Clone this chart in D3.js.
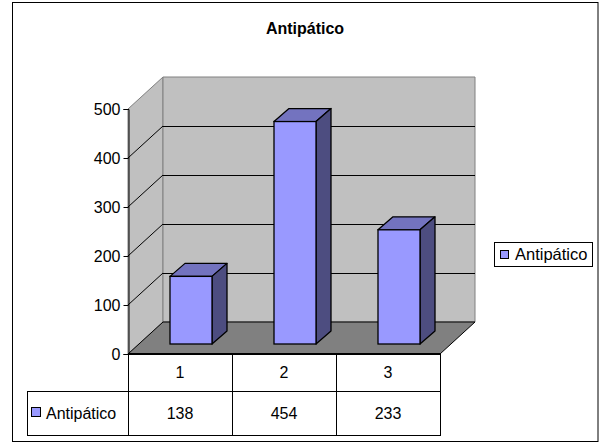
<!DOCTYPE html>
<html>
<head>
<meta charset="utf-8">
<script src="https://cdn.jsdelivr.net/npm/d3@7"></script>
<style>
  body { margin: 0; background: #fff; }
  text { font-family: "Liberation Sans", Arial, sans-serif; }
</style>
</head>
<body>
<div id="chart"></div>
<script>
// data
var categories = ["1", "2", "3"];
var values = [138, 454, 233];
var seriesName = "Antipático";
var yTicks = [0, 100, 200, 300, 400, 500];

var W = 600, H = 444;
var svg = d3.select("#chart").append("svg")
  .attr("width", W).attr("height", H);

// outer frame
svg.append("rect")
  .attr("x", 12.5).attr("y", 2.5)
  .attr("width", 585.5).attr("height", 439)
  .attr("fill", "#fff").attr("stroke", "#000").attr("stroke-width", 1);

// title
svg.append("text")
  .attr("x", 305).attr("y", 34)
  .attr("text-anchor", "middle")
  .attr("font-size", "16px").attr("font-weight", "bold")
  .text(seriesName);

var x0 = 128, x1 = 440;
var xScale = d3.scaleBand().domain(categories).range([x0, x1]);
var yScale = d3.scaleLinear().domain([0, 500]).range([354, 109]);

// depth of the 3d box
var dx = 35, dy = -32;

function pts(a) { return a.map(function(p) { return p.join(","); }).join(" "); }

var y0 = yScale(0), yTop = yScale(500);

// left wall
svg.append("polygon")
  .attr("points", pts([[x0, y0], [x0, yTop], [x0 + dx, yTop + dy], [x0 + dx, y0 + dy]]))
  .attr("fill", "#c0c0c0").attr("stroke", "#808080");

// back wall
svg.append("polygon")
  .attr("points", pts([[x0 + dx, yTop + dy], [x1 + dx, yTop + dy], [x1 + dx, y0 + dy], [x0 + dx, y0 + dy]]))
  .attr("fill", "#c0c0c0").attr("stroke", "#808080");

// floor
svg.append("polygon")
  .attr("points", pts([[x0, y0], [x1, y0], [x1 + dx, y0 + dy], [x0 + dx, y0 + dy]]))
  .attr("fill", "#808080").attr("stroke", "#000").attr("stroke-width", 1);

// grid lines
var grid = yTicks.filter(function(v) { return v > 0 && v < 500; });
svg.selectAll("line.gback").data(grid).enter().append("line")
  .attr("x1", x0 + dx).attr("x2", x1 + dx)
  .attr("y1", function(d) { return Math.round(yScale(d) + dy) + 0.5; })
  .attr("y2", function(d) { return Math.round(yScale(d) + dy) + 0.5; })
  .attr("stroke", "#000");
svg.selectAll("line.gside").data(grid).enter().append("line")
  .attr("x1", x0).attr("x2", x0 + dx)
  .attr("y1", function(d) { return yScale(d); })
  .attr("y2", function(d) { return yScale(d) + dy; })
  .attr("stroke", "#000");

// front floor edge
svg.append("line")
  .attr("x1", x0).attr("x2", x1 + 1).attr("y1", y0).attr("y2", y0)
  .attr("stroke", "#000").attr("stroke-width", 2);

// y axis
var yAxis = d3.axisLeft(yScale).tickValues(yTicks).tickSize(5).tickPadding(3);
var gy = svg.append("g").attr("transform", "translate(" + (x0 + 0.5) + ",0)").call(yAxis);
gy.select(".domain").attr("stroke", "#000");
gy.selectAll("text").attr("font-size", "16px").attr("fill", "#000")
  .attr("font-family", "Liberation Sans, Arial, sans-serif");

// bars
var bw = 42, bdx = 15, bdy = -13, offX = 11, offY = -10;
var bars = svg.selectAll("g.bar").data(values).enter().append("g");
bars.each(function(v, i) {
  var g = d3.select(this);
  var cx = xScale(categories[i]) + xScale.bandwidth() / 2 + offX;
  var l = cx - bw / 2, r = cx + bw / 2;
  var b = y0 + offY, t = yScale(v) + offY;
  g.append("polygon")
    .attr("points", pts([[l, t], [l + bdx, t + bdy], [r + bdx, t + bdy], [r, t]]))
    .attr("fill", "#7373bf").attr("stroke", "#000").attr("stroke-width", 1.3).attr("stroke-linejoin", "round");
  g.append("polygon")
    .attr("points", pts([[r, t], [r + bdx, t + bdy], [r + bdx, b + bdy], [r, b]]))
    .attr("fill", "#4d4d80").attr("stroke", "#000").attr("stroke-width", 1.3).attr("stroke-linejoin", "round");
  g.append("rect")
    .attr("x", l).attr("y", t).attr("width", bw).attr("height", b - t)
    .attr("fill", "#9999ff").attr("stroke", "#000").attr("stroke-width", 1.3);
});

// data table
var tRow1 = 391, tRow2 = 435, tLeft = 27;
var tbl = svg.append("g").attr("stroke", "#000").attr("stroke-width", 1);
var colEdges = [x0].concat(categories.map(function(c) { return xScale(c) + xScale.bandwidth(); }));
colEdges.forEach(function(xv) {
  tbl.append("line").attr("x1", Math.round(xv) + 0.5).attr("x2", Math.round(xv) + 0.5)
    .attr("y1", y0).attr("y2", tRow2);
});
tbl.append("line").attr("x1", tLeft + 0.5).attr("x2", tLeft + 0.5).attr("y1", tRow1).attr("y2", tRow2);
[tRow1, tRow2].forEach(function(yv) {
  tbl.append("line").attr("x1", tLeft).attr("x2", x1 + 1).attr("y1", yv + 0.5).attr("y2", yv + 0.5);
});

svg.selectAll("text.cat").data(categories).enter().append("text")
  .attr("x", function(d) { return xScale(d) + xScale.bandwidth() / 2; })
  .attr("y", 378).attr("text-anchor", "middle").attr("font-size", "16px")
  .text(function(d) { return d; });
svg.selectAll("text.val").data(values).enter().append("text")
  .attr("x", function(d, i) { return xScale(categories[i]) + xScale.bandwidth() / 2; })
  .attr("y", 419).attr("text-anchor", "middle").attr("font-size", "16px")
  .text(function(d) { return d; });

svg.append("rect").attr("x", 31.5).attr("y", 407.5).attr("width", 9).attr("height", 9)
  .attr("fill", "#9999ff").attr("stroke", "#000");
svg.append("text").attr("x", 46).attr("y", 419).attr("font-size", "16px").text(seriesName);

// legend
var lg = svg.append("g");
lg.append("rect").attr("x", 494.5).attr("y", 242.5).attr("width", 98).attr("height", 24)
  .attr("fill", "#fff").attr("stroke", "#000");
lg.append("rect").attr("x", 500.5).attr("y", 250.5).attr("width", 8).attr("height", 8)
  .attr("fill", "#9999ff").attr("stroke", "#000");
lg.append("text").attr("x", 515).attr("y", 260).attr("font-size", "16.5px").text(seriesName);
</script>
</body>
</html>
